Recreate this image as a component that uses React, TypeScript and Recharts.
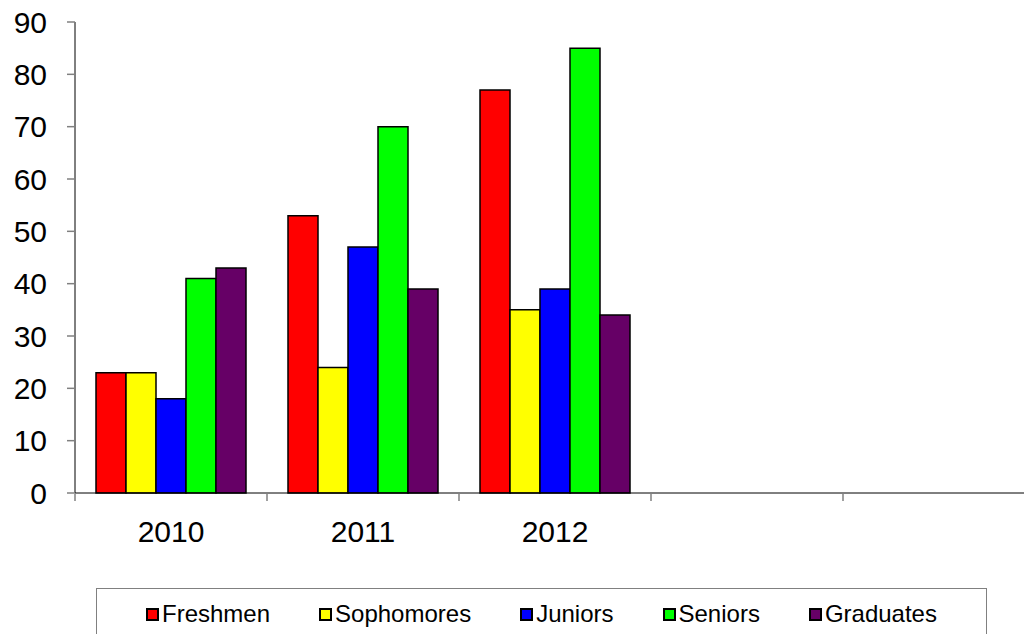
import { BarChart, Bar, XAxis, YAxis, Legend } from "recharts";

const years = ["2010", "2011", "2012", "", ""];
const freshmen = [23, 53, 77];
const sophomores = [23, 24, 35];
const juniors = [18, 47, 39];
const seniors = [41, 70, 85];
const graduates = [43, 39, 34];
const yTicks = [0, 10, 20, 30, 40, 50, 60, 70, 80, 90];
const boundaryTicks = [0, 1, 2, 3, 4, 5];

const series = [
  { key: "freshmen", name: "Freshmen", color: "#ff0000", values: freshmen },
  { key: "sophomores", name: "Sophomores", color: "#ffff00", values: sophomores },
  { key: "juniors", name: "Juniors", color: "#0000ff", values: juniors },
  { key: "seniors", name: "Seniors", color: "#00ff00", values: seniors },
  { key: "graduates", name: "Graduates", color: "#660066", values: graduates },
];

const data = years.map((year, i) => {
  const row: Record<string, string | number | null> = { year, slot: i };
  series.forEach((s) => {
    row[s.key] = s.values[i] ?? null;
  });
  return row;
});

const FONT = "'Liberation Sans', Arial, sans-serif";

function LegendBox() {
  return (
    <div
      style={{
        boxSizing: "border-box",
        width: "100%",
        height: "100%",
        border: "1px solid #808080",
        background: "#fff",
        paddingTop: 11,
        display: "flex",
        justifyContent: "center",
        gap: 49,
        fontFamily: FONT,
        fontSize: 24,
        lineHeight: "28px",
        color: "#000",
      }}
    >
      {series.map((s) => (
        <div key={s.key} style={{ display: "flex", alignItems: "center", height: 28 }}>
          <span
            style={{
              display: "inline-block",
              boxSizing: "border-box",
              width: 13,
              height: 13,
              border: "2px solid #000",
              background: s.color,
              marginRight: 3,
            }}
          />
          <span>{s.name}</span>
        </div>
      ))}
    </div>
  );
}

export default function App() {
  return (
    <div style={{ position: "fixed", left: 0, top: 0, width: 1024, height: 634, overflow: "hidden", background: "#fff" }}>
      <BarChart
        width={1040}
        height={634}
        data={data}
        margin={{ top: 22, right: 5, left: 0, bottom: 139 }}
        barCategoryGap={21}
        barGap={0}
        style={{ fontFamily: FONT }}
      >
        <XAxis
          xAxisId="cat"
          dataKey="year"
          height={1}
          tickLine={false}
          tickSize={0}
          tickMargin={28}
          interval={0}
          axisLine={{ stroke: "#000", strokeWidth: 1 }}
          tick={{ fontSize: 30, fill: "#000", fontFamily: FONT }}
        />
        <XAxis
          xAxisId="grid"
          type="number"
          dataKey="slot"
          domain={[0, 5]}
          allowDataOverflow
          ticks={boundaryTicks}
          interval={0}
          height={1}
          axisLine={false}
          tickSize={7}
          tickLine={{ stroke: "#808080", strokeWidth: 1.5 }}
          tickFormatter={() => ""}
          tick={{ fontSize: 1 }}
        />
        <YAxis
          width={75}
          domain={[0, 90]}
          ticks={yTicks}
          interval={0}
          tickSize={8}
          tickMargin={20}
          axisLine={{ stroke: "#000", strokeWidth: 1 }}
          tickLine={{ stroke: "#808080", strokeWidth: 1.5 }}
          tick={{ fontSize: 30, fill: "#000", fontFamily: FONT }}
        />
        <Legend
          layout="vertical"
          align="center"
          verticalAlign="middle"
          wrapperStyle={{ left: 96, top: 588, width: 891, height: 60 }}
          content={() => <LegendBox />}
        />
        {series.map((s) => (
          <Bar
            key={s.key}
            xAxisId="cat"
            dataKey={s.key}
            name={s.name}
            fill={s.color}
            stroke="#000"
            strokeWidth={1.5}
            isAnimationActive={false}
          />
        ))}
      </BarChart>
    </div>
  );
}
